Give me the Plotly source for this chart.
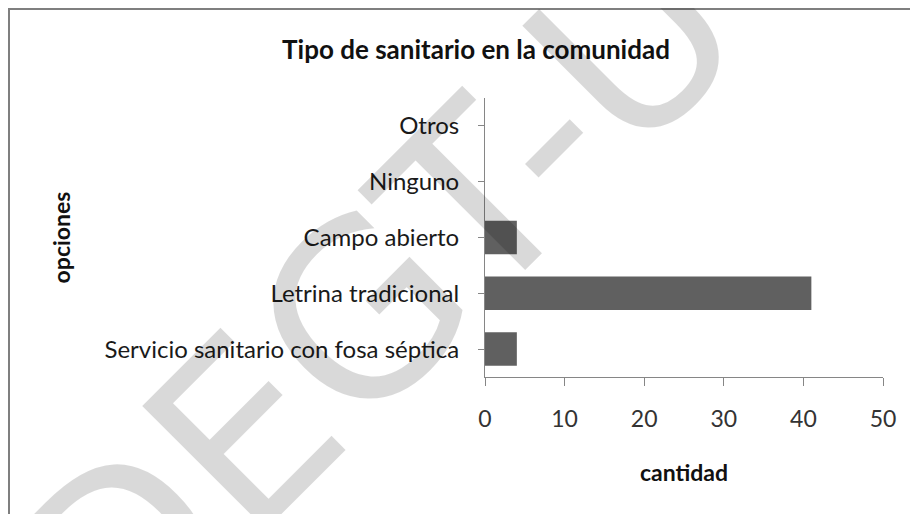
"""Tipo de sanitario en la comunidad: horizontal bar chart."""

import plotly.graph_objects as go

categories = [
    "Servicio sanitario con fosa séptica",
    "Letrina tradicional",
    "Campo abierto",
    "Ninguno",
    "Otros",
]
cantidad = [4, 41, 4, 0, 0]
x_ticks = [0, 10, 20, 30, 40, 50]

FONT = "Lato, 'Open Sans', sans-serif"
AXIS_GREY = "#868686"
# the page body keeps an 8px margin, so the figure is 8px smaller than the window
W, H = 910, 506
L, R, T, B = 477, 35, 90, 137


def px_to_paper(px, py):
    """Pixel position in the figure -> paper coordinates of the plot area."""
    return (px - L) / (W - L - R), (H - B - py) / (H - T - B)


fig = go.Figure()
fig.add_trace(
    go.Bar(
        y=categories,
        x=cantidad,
        orientation="h",
        marker=dict(color="#606060", line=dict(width=0)),
        showlegend=False,
        hoverinfo="x+y",
    )
)

# boundary ticks that cross the category axis (one axis out, one axis in)
boundaries = [i - 0.5 for i in range(len(categories) + 1)]
boundary_axis = dict(
    overlaying="y",
    anchor="x",
    side="left",
    range=[-0.5, len(categories) - 0.5],
    tickvals=boundaries,
    showticklabels=False,
    ticklen=8,
    tickwidth=1,
    tickcolor=AXIS_GREY,
    showgrid=False,
    zeroline=False,
    showline=False,
)

fig.update_layout(
    template="none",
    width=W,
    height=H,
    margin=dict(l=L, r=R, t=T, b=B),
    paper_bgcolor="white",
    plot_bgcolor="white",
    bargap=0.4,
    font=dict(family=FONT, color="#1a1a1a"),
    title=dict(
        text="<b>Tipo de sanitario en la comunidad</b>",
        x=468 / W,
        xanchor="center",
        y=1 - 42 / H,
        yanchor="middle",
        font=dict(size=26, color="#111111"),
    ),
    xaxis=dict(
        range=[0, 50],
        tickvals=x_ticks,
        ticks="outside",
        ticklen=8,
        tickwidth=1,
        tickcolor=AXIS_GREY,
        showline=True,
        linecolor=AXIS_GREY,
        linewidth=1,
        showgrid=False,
        zeroline=False,
        tickfont=dict(size=23, color="#333333"),
        ticklabelstandoff=13,
        title=dict(
            text="<b>cantidad</b>",
            font=dict(size=23, color="#111111"),
            standoff=34,
        ),
    ),
    yaxis=dict(
        type="category",
        categoryorder="array",
        categoryarray=categories,
        range=[-0.5, len(categories) - 0.5],
        ticks="outside",
        ticklen=6,
        tickwidth=1,
        tickcolor=AXIS_GREY,
        showline=True,
        linecolor=AXIS_GREY,
        linewidth=1,
        showgrid=False,
        zeroline=False,
        tickfont=dict(size=24, color="#1a1a1a"),
        ticklabelstandoff=14,
        title=dict(
            text="<b>opciones</b>",
            font=dict(size=23, color="#111111"),
            standoff=27,
        ),
    ),
    yaxis2=dict(boundary_axis, ticks="outside"),
    yaxis3=dict(boundary_axis, ticks="inside"),
)

# outer chart frame (cut off at the right and bottom of the picture)
fx0, fy0 = px_to_paper(1, 1)
fx1, fy1 = px_to_paper(W + 20, H + 20)
fig.add_shape(
    type="rect",
    xref="paper",
    yref="paper",
    x0=fx0,
    y0=fy1,
    x1=fx1,
    y1=fy0,
    line=dict(color="#7f7f7f", width=2),
    fillcolor="rgba(0,0,0,0)",
)

# faint diagonal watermark over the chart
wx, wy = px_to_paper(378 - 8, 300 - 8)
fig.add_annotation(
    text="DEGT-U",
    xref="paper",
    yref="paper",
    x=wx,
    y=wy,
    xanchor="center",
    yanchor="middle",
    textangle=-45,
    showarrow=False,
    font=dict(family="DejaVu Sans", size=240, color="rgba(0,0,0,0.15)"),
)

fig.write_html("out.html")
